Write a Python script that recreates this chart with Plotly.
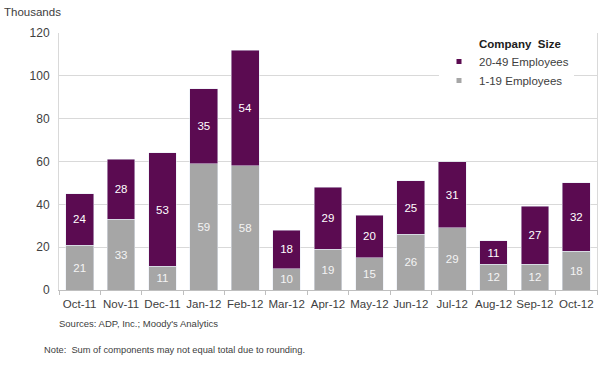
import plotly.graph_objects as go

months = ["Oct-11", "Nov-11", "Dec-11", "Jan-12", "Feb-12", "Mar-12", "Apr-12",
          "May-12", "Jun-12", "Jul-12", "Aug-12", "Sep-12", "Oct-12"]
small_1_19 = [21, 33, 11, 59, 58, 10, 19, 15, 26, 29, 12, 12, 18]
mid_20_49 = [24, 28, 53, 35, 54, 18, 29, 20, 25, 31, 11, 27, 32]
y_ticks = [0, 20, 40, 60, 80, 100, 120]

PURPLE = "#5B0B51"
GRAY = "#A6A6A6"
FONT = "Liberation Sans, Arial, sans-serif"

L, R, T, B = 59, 3, 33, 75
PW = 600 - L - R
PH = 365 - T - B

def px(x):
    return (x - L) / PW

def py(y):
    return (365 - B - y) / PH

fig = go.Figure()
fig.add_trace(go.Bar(
    x=months, y=small_1_19, name="1-19 Employees", marker_color=GRAY,
    text=small_1_19, textposition="inside", insidetextanchor="middle",
    textfont=dict(color="#F4F4F4", size=11.5, family=FONT), showlegend=False,
    hoverinfo="skip"))
fig.add_trace(go.Bar(
    x=months, y=mid_20_49, name="20-49 Employees", marker_color=PURPLE,
    text=mid_20_49, textposition="inside", insidetextanchor="middle",
    textfont=dict(color="#FFFFFF", size=11.5, family=FONT), showlegend=False,
    hoverinfo="skip"))

# legend-only entries with small square swatches
fig.add_trace(go.Scatter(x=[None], y=[None], mode="markers", name="1-19 Employees",
                         marker=dict(symbol="square", size=5, color=GRAY)))
fig.add_trace(go.Scatter(x=[None], y=[None], mode="markers", name="20-49 Employees",
                         marker=dict(symbol="square", size=5, color=PURPLE)))

fig.update_layout(
    width=600, height=365,
    margin=dict(l=L, r=R, t=T, b=B, autoexpand=False),
    barmode="stack", bargap=0.33,
    plot_bgcolor="white", paper_bgcolor="white",
    font=dict(family=FONT, color="#404040", size=11),
    legend=dict(
        traceorder="reversed",
        x=px(439), y=py(47), xanchor="left", yanchor="top",
        bgcolor="white", borderwidth=0,
        font=dict(size=11.5, color="#404040"),
        itemwidth=30, tracegroupgap=0,
    ),
    xaxis=dict(
        type="category", showgrid=False, showline=True, linecolor="#BFBFBF",
        linewidth=1, mirror=False, ticks="outside", tickson="boundaries",
        ticklen=4, tickcolor="#BFBFBF", tickfont=dict(size=11.5, color="#404040"),
        range=[-0.5, 12.5], tickangle=0, automargin=False, ticklabelstandoff=3,
    ),
    yaxis=dict(
        range=[0, 120], tickvals=y_ticks, showgrid=True, gridcolor="#D9D9D9",
        showline=True, linecolor="#D9D9D9", mirror=True, ticks="",
        tickfont=dict(size=12, color="#404040"), zeroline=False,
        automargin=False, ticklabelstandoff=6,
    ),
    annotations=[
        dict(text="Thousands", x=px(2), y=py(12), xref="paper", yref="paper",
             xanchor="left", yanchor="middle", showarrow=False,
             font=dict(size=11.5, color="#404040")),
        dict(text="<b>Company  Size</b>", x=px(520), y=py(44), xref="paper",
             yref="paper", xanchor="center", yanchor="middle", showarrow=False,
             font=dict(size=11.5, color="#202020")),
        dict(text="Sources: ADP, Inc.; Moody's Analytics", x=px(57), y=py(323),
             xref="paper", yref="paper", xanchor="left", yanchor="middle",
             showarrow=False, font=dict(size=9.5, color="#404040")),
        dict(text="Note:  Sum of components may not equal total due to rounding.",
             x=px(42), y=py(350), xref="paper", yref="paper", xanchor="left",
             yanchor="middle", showarrow=False, font=dict(size=9.3, color="#404040")),
    ],
)

fig.write_html("out.html",
               config={"displayModeBar": False},
               post_script="document.body.style.margin='0';document.body.style.overflow='hidden';")
